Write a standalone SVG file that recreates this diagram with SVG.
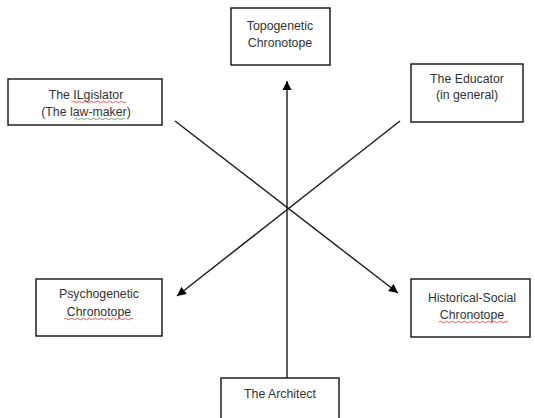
<svg xmlns="http://www.w3.org/2000/svg" width="535" height="418" viewBox="0 0 535 418">
<defs>
<style>
.box{fill:#fff;stroke:#111;stroke-width:1.4}
.t{font-family:"Liberation Sans",Arial,sans-serif;font-size:12.3px;fill:#333;text-anchor:middle}
.c{stroke:#1a1a1a;stroke-width:1.4;fill:none}
.sq{fill:none;stroke-width:0.8}
</style>
<marker id="ah" viewBox="0 0 10 10" refX="10" refY="5" markerWidth="11" markerHeight="9" markerUnits="userSpaceOnUse" orient="auto">
<path d="M0,0 L10,5 L0,10 z" fill="#000"/>
</marker>
</defs>
<rect width="535" height="418" fill="#fff"/>
<g id="connectors">
<line class="c" x1="287" y1="378" x2="287" y2="81" marker-end="url(#ah)"/>
<line class="c" x1="175" y1="121" x2="398" y2="293" marker-end="url(#ah)"/>
<line class="c" x1="400" y1="121" x2="177" y2="296" marker-end="url(#ah)"/>
</g>
<g id="topogenetic">
<rect class="box" x="231" y="8" width="99" height="57"/>
<text class="t" x="280" y="30">Topogenetic</text>
<text class="t" x="280" y="47">Chronotope</text>
</g>
<g id="legislator">
<rect class="box" x="8" y="79" width="154" height="46"/>
<text class="t" x="86" y="99">The ILgislator</text>
<text class="t" x="86" y="116">(The law-maker)</text>
<path class="sq" stroke="#e03030" d="M72,102 q1.5,-1.5 3,0 t3,0 t3,0 t3,0 t3,0 t3,0 t3,0 t3,0 t3,0 t3,0 t3,0 t3,0 t3,0 t3,0 t3,0 t3,0 t3,0 t3,0"/>
<path class="sq" stroke="#3a9a3a" d="M74,119 q1.5,-1.5 3,0 t3,0 t3,0 t3,0 t3,0 t3,0 t3,0 t3,0 t3,0 t3,0 t3,0 t3,0 t3,0 t3,0 t3,0 t3,0 t3,0"/>
</g>
<g id="educator">
<rect class="box" x="411" y="64" width="112" height="58"/>
<text class="t" x="467" y="83">The Educator</text>
<text class="t" x="467" y="99">(in general)</text>
</g>
<g id="psychogenetic">
<rect class="box" x="36" y="279" width="126" height="57"/>
<text class="t" x="99" y="298">Psychogenetic</text>
<text class="t" x="99" y="316">Chronotope</text>
<path class="sq" stroke="#e03030" d="M64,319 q1.5,-1.5 3,0 t3,0 t3,0 t3,0 t3,0 t3,0 t3,0 t3,0 t3,0 t3,0 t3,0 t3,0 t3,0 t3,0 t3,0 t3,0 t3,0 t3,0 t3,0 t3,0 t3,0 t3,0 t3,0"/>
</g>
<g id="historical">
<rect class="box" x="411" y="279" width="119" height="58"/>
<text class="t" x="472" y="302">Historical-Social</text>
<text class="t" x="472" y="319">Chronotope</text>
<path class="sq" stroke="#e03030" d="M439,322 q1.5,-1.5 3,0 t3,0 t3,0 t3,0 t3,0 t3,0 t3,0 t3,0 t3,0 t3,0 t3,0 t3,0 t3,0 t3,0 t3,0 t3,0 t3,0 t3,0 t3,0 t3,0 t3,0 t3,0 t3,0"/>
</g>
<g id="architect">
<rect class="box" x="221" y="378" width="118" height="48"/>
<text class="t" x="280" y="398">The Architect</text>
</g>
</svg>
